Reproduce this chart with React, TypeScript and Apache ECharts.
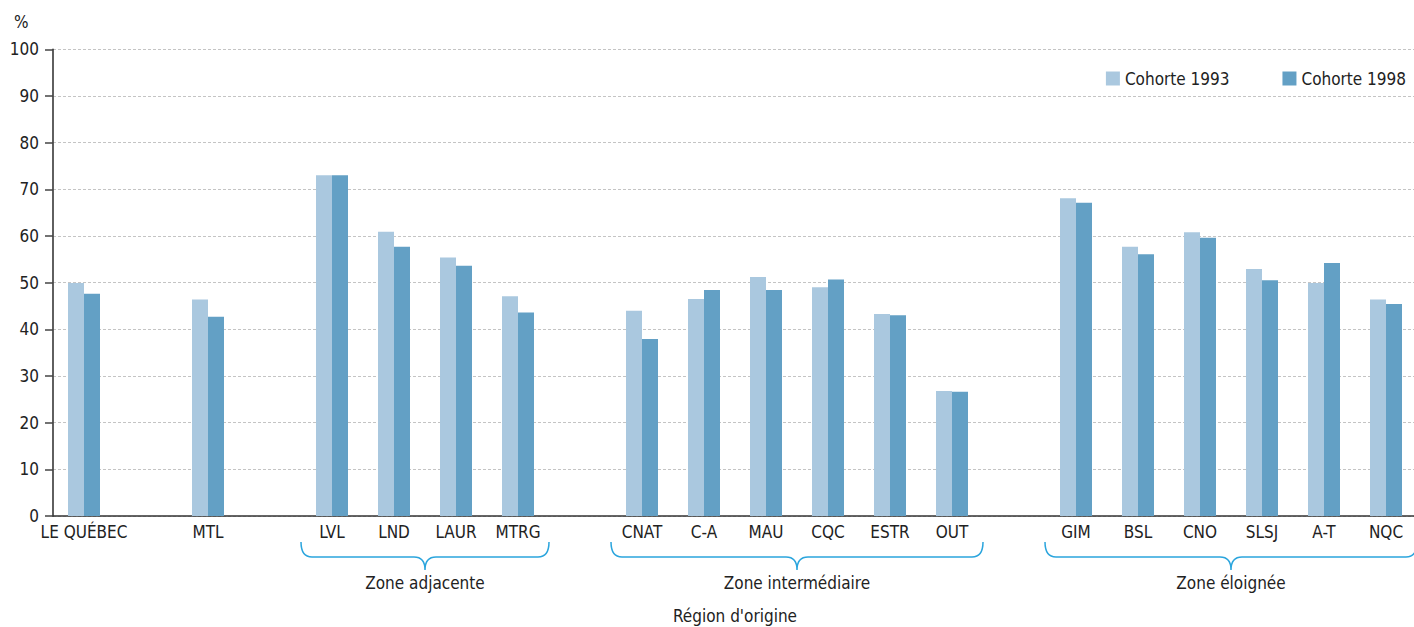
import React, { useEffect, useRef } from "react";
import * as echarts from "echarts";

const categories = ["LE QUÉBEC", " ", "MTL", "  ", "LVL", "LND", "LAUR", "MTRG", "   ", "CNAT", "C-A", "MAU", "CQC", "ESTR", "OUT", "    ", "GIM", "BSL", "CNO", "SLSJ", "A-T", "NQC"];
const cohort1993 = [49.9, null, 46.4, null, 73.0, 60.9, 55.4, 47.1, null, 44.0, 46.5, 51.2, 49.0, 43.3, 26.8, null, 68.1, 57.7, 60.8, 52.9, 49.9, 46.4];
const cohort1998 = [47.6, null, 42.7, null, 73.0, 57.7, 53.6, 43.6, null, 37.9, 48.4, 48.4, 50.7, 43.0, 26.6, null, 67.1, 56.1, 59.6, 50.5, 54.2, 45.4];
const seriesNames = ["Cohorte 1993", "Cohorte 1998"];
const zones = [
  { label: "Zone adjacente", from: 4, to: 7 },
  { label: "Zone intermédiaire", from: 9, to: 14 },
  { label: "Zone éloignée", from: 16, to: 21 },
];
const xAxisTitle = "Région d'origine";
const yAxisUnit = "%";

const FONT = "'DejaVu Sans Condensed', 'Liberation Sans Narrow', sans-serif";
const TEXT = "#222";
const LIGHT = "#aac8df";
const DARK = "#63a0c5";
const BRACE = "#2ba5dd";
const FS = 17;

const Brace = echarts.graphic.extendShape({
  shape: { x1: 0, x2: 0, y0: 0, y1: 0, y2: 0, r: 10 },
  buildPath(ctx: any, s: any) {
    const xm = (s.x1 + s.x2) / 2;
    ctx.moveTo(s.x1, s.y0);
    ctx.quadraticCurveTo(s.x1, s.y1, s.x1 + s.r, s.y1);
    ctx.lineTo(xm - s.r, s.y1);
    ctx.quadraticCurveTo(xm, s.y1, xm, s.y2);
    ctx.moveTo(xm, s.y2);
    ctx.quadraticCurveTo(xm, s.y1, xm + s.r, s.y1);
    ctx.lineTo(s.x2 - s.r, s.y1);
    ctx.quadraticCurveTo(s.x2, s.y1, s.x2, s.y0);
  },
});
echarts.graphic.registerShape("brace", Brace);

export default function App() {
  const ref = useRef<HTMLDivElement>(null);
  useEffect(() => {
    if (!ref.current) return;
    const chart = echarts.init(ref.current, undefined, { renderer: "svg" });
    chart.setOption({
      animation: false,
      textStyle: { fontFamily: FONT, color: TEXT },
      legend: {
        right: 3,
        top: 65,
        itemWidth: 14,
        itemHeight: 14,
        itemGap: 53,
        icon: "rect",
        textStyle: { fontFamily: FONT, fontSize: FS, color: TEXT },
        data: seriesNames,
      },
      grid: { left: 53, top: 49.3, width: 1364, bottom: 111, outerBoundsMode: "none", containLabel: false },
      xAxis: {
        type: "category",
        data: categories,
        axisLine: { lineStyle: { color: "#333", width: 1.5 } },
        axisTick: { show: false },
        axisLabel: { interval: 0, fontFamily: FONT, fontSize: FS, color: TEXT, margin: 7 },
      },
      yAxis: {
        type: "value",
        min: 0,
        max: 100,
        interval: 10,
        axisLine: { show: true, lineStyle: { color: "#444", width: 1.7 } },
        axisTick: { show: true, length: 8, lineStyle: { color: "#444", width: 1.5 } },
        axisLabel: { fontFamily: FONT, fontSize: FS, color: TEXT, margin: 14 },
        splitLine: { lineStyle: { color: "#c4c4c4", type: [3, 2], width: 1 } },
      },
      series: [
        { name: seriesNames[0], type: "bar", data: cohort1993, barWidth: 16, barGap: "0%", itemStyle: { color: LIGHT } },
        { name: seriesNames[1], type: "bar", data: cohort1998, barWidth: 16, barGap: "0%", itemStyle: { color: DARK } },
      ],
    });

    const px = (i: number) => chart.convertToPixel({ xAxisIndex: 0 }, i) as number;
    const y0 = chart.convertToPixel({ yAxisIndex: 0 }, 0) as number;
    const slot = px(1) - px(0);
    const xFirst = px(0) - slot / 2;
    const xLast = px(categories.length - 1) + slot / 2;
    const graphics: any[] = [
      {
        type: "text",
        left: 14,
        top: 13,
        style: { text: yAxisUnit, fontFamily: FONT, fontSize: FS, fill: TEXT },
      },
      {
        type: "text",
        x: (xFirst + xLast) / 2,
        y: y0 + 100,
        style: { text: xAxisTitle, fontFamily: FONT, fontSize: FS, fill: TEXT, align: "center", verticalAlign: "middle" },
      },
    ];
    zones.forEach((z) => {
      const x1 = px(z.from) - slot / 2;
      const x2 = px(z.to) + slot / 2;
      graphics.push({
        type: "brace",
        shape: { x1, x2, y0: y0 + 26, y1: y0 + 41, y2: y0 + 54, r: 11 },
        style: { stroke: BRACE, lineWidth: 1.5, fill: "none" },
      });
      graphics.push({
        type: "text",
        x: (x1 + x2) / 2,
        y: y0 + 67,
        style: {
          text: z.label,
          fontFamily: FONT,
          fontSize: FS,
          fill: TEXT,
          align: "center",
          verticalAlign: "middle",
        },
      });
    });
    chart.setOption({ graphic: graphics });

    return () => chart.dispose();
  }, []);
  return <div ref={ref} style={{ position: "absolute", left: 0, top: 0, width: 1414, height: 627 }} />;
}
